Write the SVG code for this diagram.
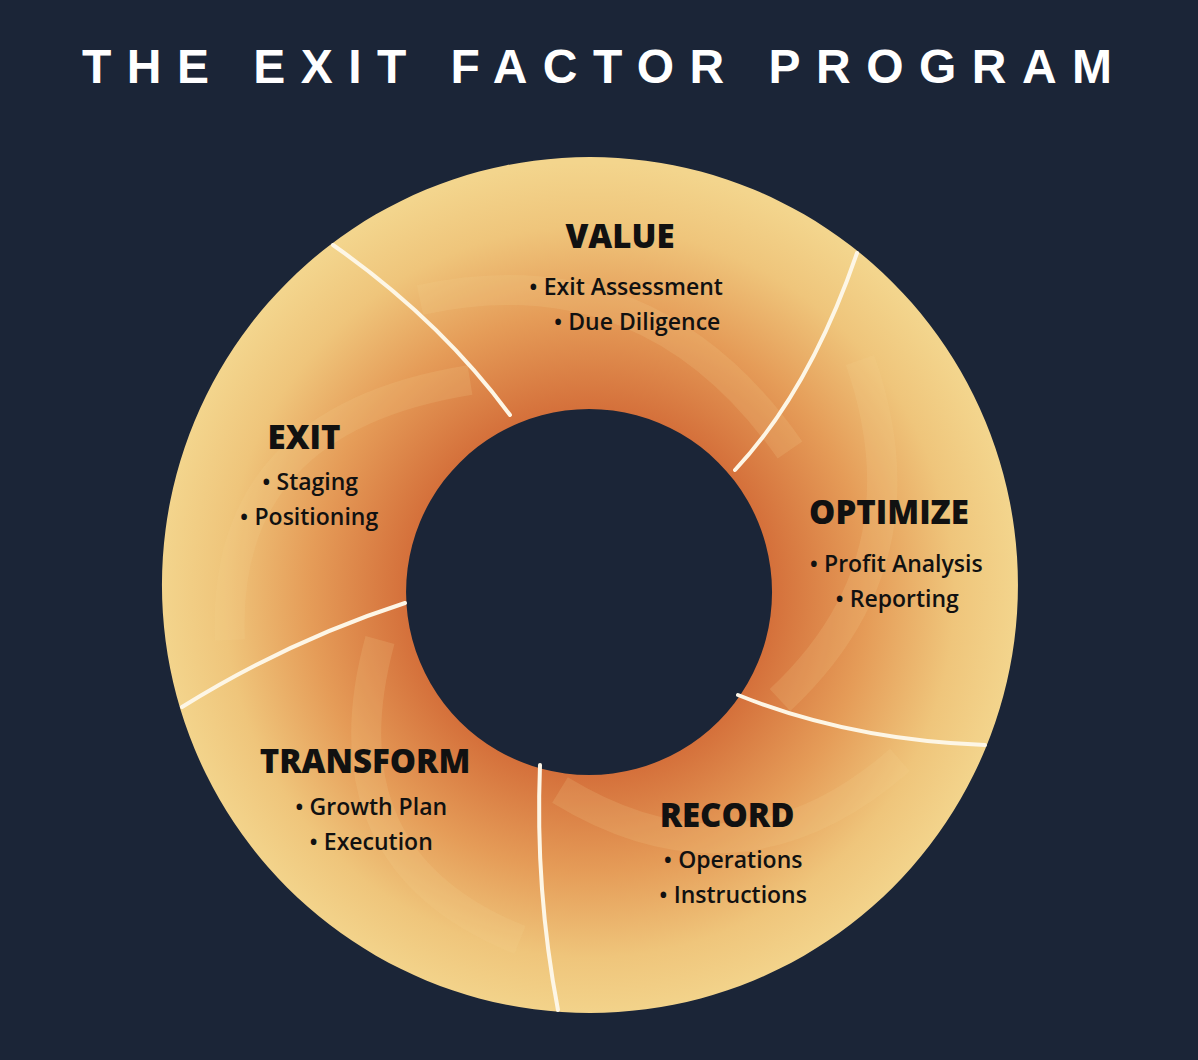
<svg xmlns="http://www.w3.org/2000/svg" width="1198" height="1060" viewBox="0 0 1198 1060">
<style>
.h{font-family:"Open Sans","Liberation Sans",sans-serif;font-weight:800;font-size:33px;fill:#111;text-anchor:middle}
.b{font-family:"Open Sans","Liberation Sans",sans-serif;font-weight:600;font-size:23px;fill:#111;text-anchor:middle}
.div{fill:none;stroke:#fdf6e6;stroke-width:4;stroke-linecap:round}
</style>
<defs>
<radialGradient id="rg" cx="589" cy="592" r="430" gradientUnits="userSpaceOnUse">
<stop offset="0.42" stop-color="#d46f3a"/>
<stop offset="0.65" stop-color="#e59c58"/>
<stop offset="0.85" stop-color="#efc57b"/>
<stop offset="1" stop-color="#f3d58d"/>
</radialGradient>
</defs>
<rect width="1198" height="1060" fill="#1b2537"/>
<text x="597" y="83" font-family="'Liberation Sans',sans-serif" font-weight="700" font-size="48" fill="#ffffff" text-anchor="middle" textLength="1030" lengthAdjust="spacing">THE EXIT FACTOR PROGRAM</text>
<g id="ring">
<path fill="url(#rg)" fill-rule="evenodd" d="M590 157 A428 428 0 1 1 589.9 157 Z M589 409 A183 183 0 1 0 589.1 409 Z"/>
<g fill="none" stroke="#f6d590" stroke-opacity="0.18" stroke-width="30">
<path d="M420 300 Q650 250 790 450"/>
<path d="M860 360 Q930 560 780 700"/>
<path d="M900 760 Q740 900 560 790"/>
<path d="M520 940 Q320 860 380 640"/>
<path d="M230 640 Q220 420 470 380"/>
</g>
</g>
<g id="connectors">
<path class="div" d="M510 415 Q440 320 333 245"/>
<path class="div" d="M735 470 Q810 390 857 253"/>
<path class="div" d="M738 695 Q850 740 985 745"/>
<path class="div" d="M540 765 Q535 890 558 1010"/>
<path class="div" d="M405 603 Q290 640 182 707"/>
</g>
<g id="value"><text class="h" x="620" y="248">VALUE</text><text class="b" x="626" y="295">•  Exit Assessment</text><text class="b" x="637" y="330">•  Due Diligence</text></g>
<g id="optimize"><text class="h" x="889" y="524">OPTIMIZE</text><text class="b" x="896" y="572">•  Profit Analysis</text><text class="b" x="897" y="607">•  Reporting</text></g>
<g id="exit"><text class="h" x="304" y="449">EXIT</text><text class="b" x="310" y="490">•  Staging</text><text class="b" x="309" y="525">•  Positioning</text></g>
<g id="transform"><text class="h" x="365" y="773">TRANSFORM</text><text class="b" x="371" y="815">•  Growth Plan</text><text class="b" x="371" y="850">•  Execution</text></g>
<g id="record"><text class="h" x="727" y="827">RECORD</text><text class="b" x="733" y="868">•  Operations</text><text class="b" x="733" y="903">•  Instructions</text></g>
</svg>
